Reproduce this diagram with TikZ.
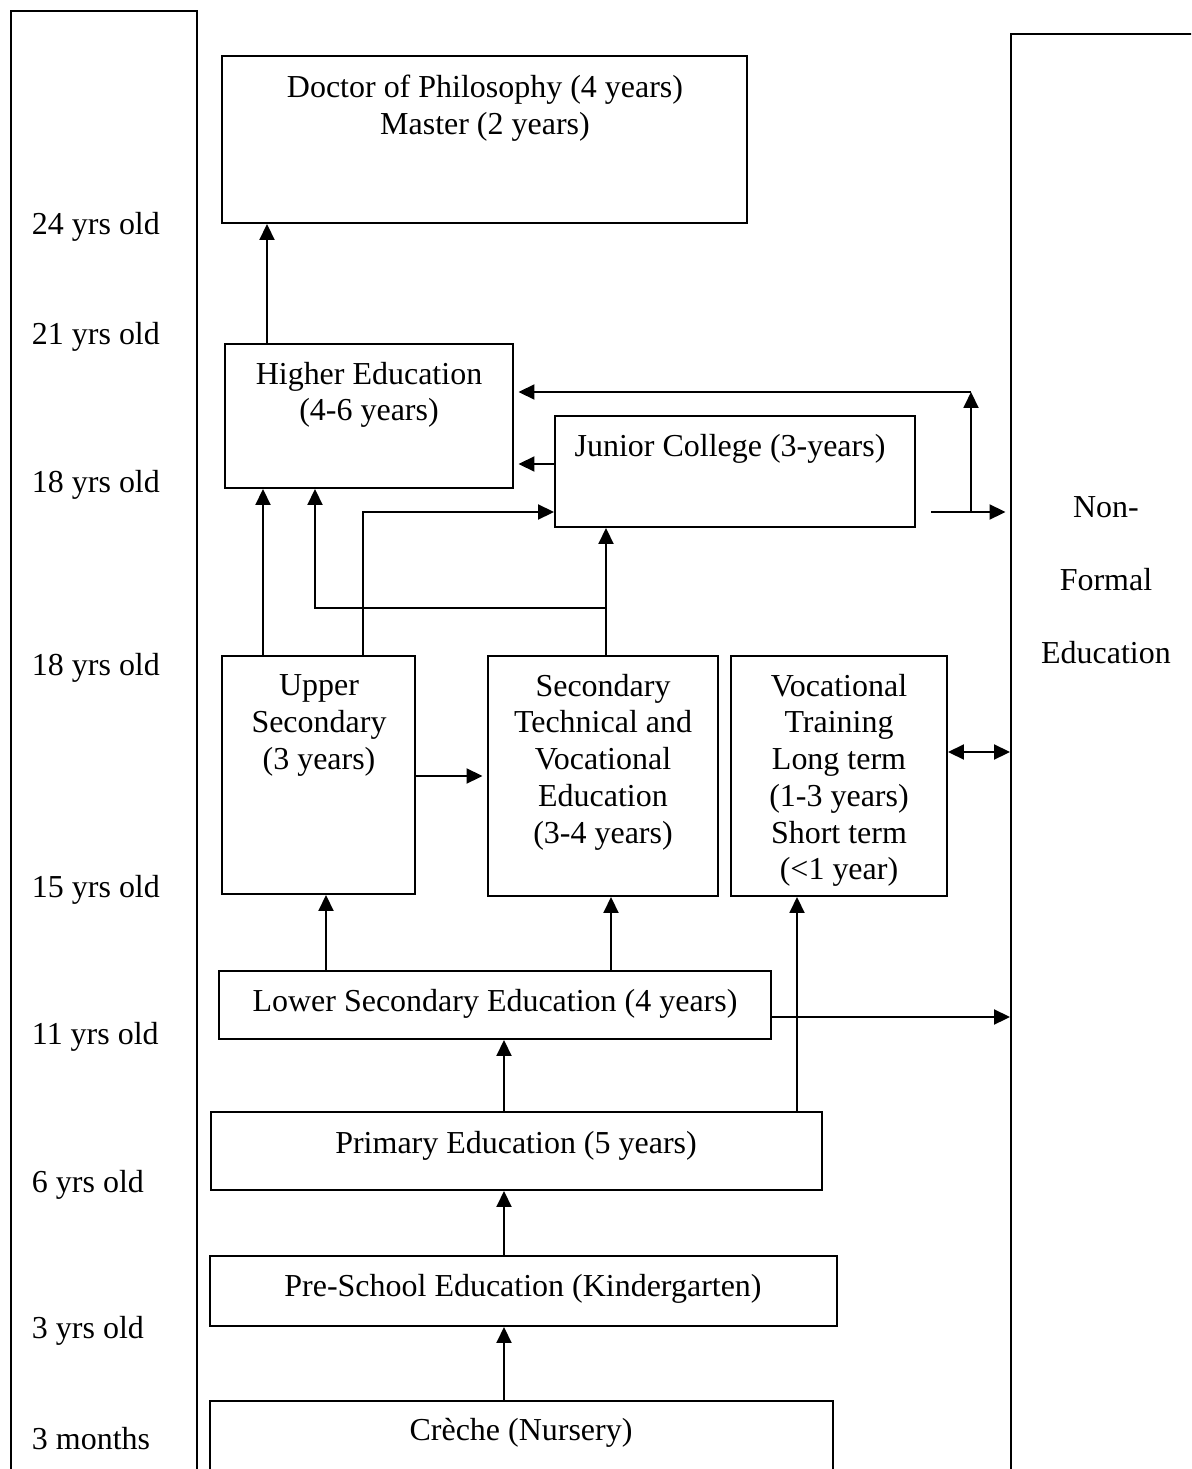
\documentclass[tikz,border=0pt]{standalone}
\usepackage{fontspec}
\setmainfont{Liberation Serif}
\usetikzlibrary{arrows.meta,fit}

\begin{document}
\begin{tikzpicture}[x=0.02cm, y=-0.02cm, line width=1.1pt, >={Triangle[length=0.32cm,width=0.3cm]},
  box/.style={draw, inner sep=0pt},
  txt/.style={inner sep=0pt, align=center, font=\fontsize{18.2}{20.9}\selectfont},
  arr/.style={->},
  endgap/.style={shorten >=0.09cm}]

\useasboundingbox (0,0) rectangle (1191,1469);
\clip (0,0) rectangle (1191,1469);

% columns at the sides
\node[box, fit={(11,11) (197,1520)}] (lcol) {};
\node[box, fit={(1011,34) (1260,1520)}] (nfe) {};
\node[txt, anchor=north, font=\fontsize{18.2}{41.5}\selectfont] (nfeT) at (1106,496) {Non-\\Formal\\Education};

\node[txt, anchor=base west] (age24) at (31,235) {24 yrs old};
\node[txt, anchor=base west] (age21) at (31,345) {21 yrs old};
\node[txt, anchor=base west] (age18a) at (31,492) {18 yrs old};
\node[txt, anchor=base west] (age18b) at (31,675) {18 yrs old};
\node[txt, anchor=base west] (age15) at (31,897) {15 yrs old};
\node[txt, anchor=base west] (age11) at (31,1044) {11 yrs old};
\node[txt, anchor=base west] (age6) at (31,1192) {6 yrs old};
\node[txt, anchor=base west] (age3) at (31,1338) {3 yrs old};
\node[txt, anchor=base west] (age0) at (31,1449) {3 months};

% boxes
\node[box, fit={(222,56) (747,223)}] (phd) {};
\node[box, fit={(225,344) (513,488)}] (he) {};
\node[box, fit={(555,416) (915,527)}] (jc) {};
\node[box, fit={(222,656) (415,894)}] (us) {};
\node[box, fit={(488,656) (718,896)}] (stve) {};
\node[box, fit={(731,656) (947,896)}] (vt) {};
\node[box, fit={(219,971) (771,1039)}] (ls) {};
\node[box, fit={(211,1112) (822,1190)}] (prim) {};
\node[box, fit={(210,1256) (837,1326)}] (pre) {};
\node[box, fit={(210,1401) (833,1520)}] (creche) {};

\node[txt, anchor=north] (phdT) at (485,74) {Doctor of Philosophy (4 years)\\Master (2 years)};
\node[txt, anchor=north] (heT) at (369,361) {Higher Education\\(4-6 years)};
\node[txt, anchor=base] (jcT) at (730,456) {Junior College (3-years)};
\node[txt, anchor=north] (usT) at (319,674) {Upper\\Secondary\\(3 years)};
\node[txt, anchor=north] (stveT) at (603,673) {Secondary\\Technical and\\Vocational\\Education\\(3-4 years)};
\node[txt, anchor=north] (vtT) at (839,673) {Vocational\\Training\\Long term\\(1-3 years)\\Short term\\(<1 year)};
\node[txt, anchor=base] (lsT) at (495,1011) {Lower Secondary Education (4 years)};
\node[txt, anchor=base] (primT) at (516,1153) {Primary Education (5 years)};
\node[txt, anchor=base] (preT) at (523,1296) {Pre-School Education (Kindergarten)};
\node[txt, anchor=base] (crT) at (521,1440) {Crèche (Nursery)};

\coordinate (jcout) at (931,512);
\coordinate (jcup) at (971,512);
\coordinate (jctop) at (971,392);
\coordinate (split) at (606,608);

% connectors
\draw[arr] (267,0 |- he.north) -- (267,0 |- phd.south);
\draw[arr, endgap] (jcout) -- (jcout -| nfe.west);
\draw[arr] (jcup) -- (jctop);
\draw[arr, endgap] (jctop) -- (jctop -| he.east);
\draw[arr, endgap] (jc.west |- 0,464) -- (he.east |- 0,464);
\draw[arr] (363,0 |- us.north) |- (jc.west |- 0,512);
\draw[arr] (263,0 |- us.north) -- (263,0 |- he.south);
\draw[arr] (606,0 |- stve.north) -- (606,0 |- jc.south);
\draw[arr] (split) -| (315,0 |- he.south);
\draw[arr, endgap] (us.east |- 0,776) -- (stve.west |- 0,776);
\draw[<->] (vt.east |- 0,752) -- (nfe.west |- 0,752);
\draw[arr] (326,0 |- ls.north) -- (326,0 |- us.south);
\draw[arr] (611,0 |- ls.north) -- (611,0 |- stve.south);
\draw[arr] (ls.east |- 0,1017) -- (nfe.west |- 0,1017);
\draw[arr] (504,0 |- prim.north) -- (504,0 |- ls.south);
\draw[arr] (797,0 |- prim.north) -- (797,0 |- vt.south);
\draw[arr] (504,0 |- pre.north) -- (504,0 |- prim.south);
\draw[arr] (504,0 |- creche.north) -- (504,0 |- pre.south);
\end{tikzpicture}
\end{document}
